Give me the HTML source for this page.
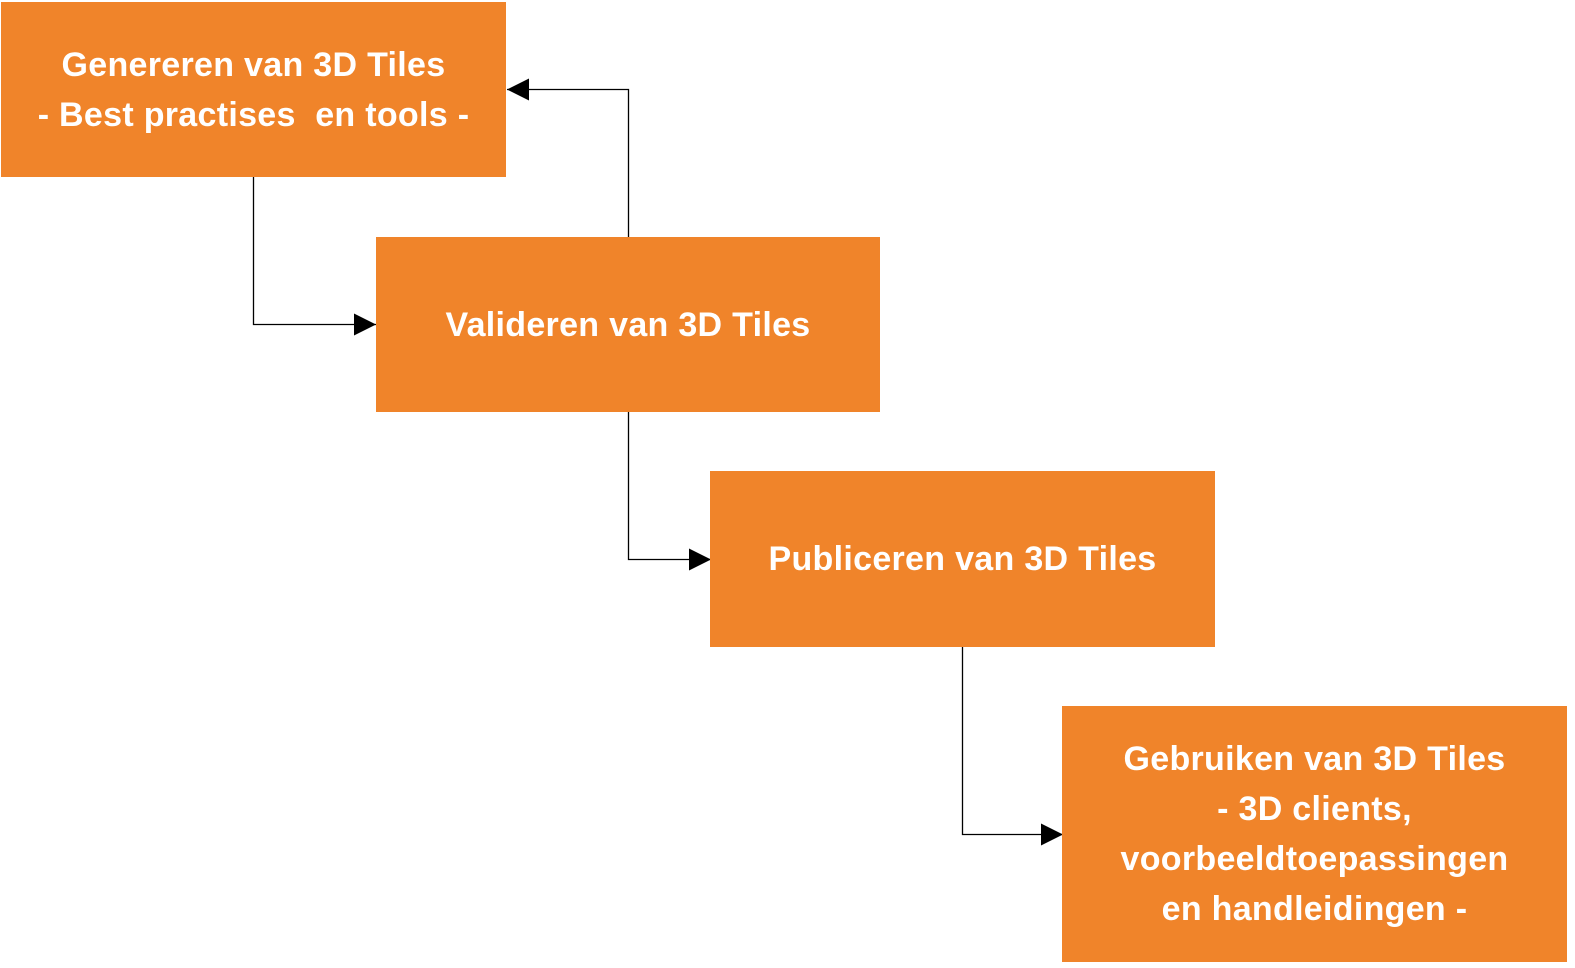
<!DOCTYPE html>
<html><head><meta charset="utf-8"><style>
body{margin:0;width:1575px;height:968px;background:#fff;position:relative;overflow:hidden}
.b{position:absolute;background:#F0842A;color:#fff;font-family:"Liberation Sans",sans-serif;font-weight:bold;font-size:34px;line-height:50px;display:flex;align-items:center;justify-content:center;text-align:center;letter-spacing:0.3px}
svg{position:absolute;left:0;top:0}
</style></head><body>
<svg width="1575" height="968">
<defs><marker id="a" markerWidth="22" markerHeight="22" refX="22" refY="11" orient="auto" markerUnits="userSpaceOnUse"><path d="M0,0L22,11L0,22z" fill="#000"/></marker></defs>
<g stroke="#000" stroke-width="1.3" fill="none">
<path d="M253.5,177V324.5H376" marker-end="url(#a)"/>
<path d="M628.5,237V89.5H507" marker-end="url(#a)"/>
<path d="M628.5,411V559.5H711" marker-end="url(#a)"/>
<path d="M962.5,646V834.5H1063" marker-end="url(#a)"/>
</g></svg>
<div class="b" style="left:1px;top:2px;width:505px;height:175px">Genereren van 3D Tiles<br>- Best practises&nbsp; en tools -</div>
<div class="b" style="left:376px;top:237px;width:504px;height:175px">Valideren van 3D Tiles</div>
<div class="b" style="left:710px;top:471px;width:505px;height:176px">Publiceren van 3D Tiles</div>
<div class="b" style="left:1062px;top:706px;width:505px;height:256px">Gebruiken van 3D Tiles<br>- 3D clients,<br>voorbeeldtoepassingen<br>en handleidingen -</div>
</body></html>
